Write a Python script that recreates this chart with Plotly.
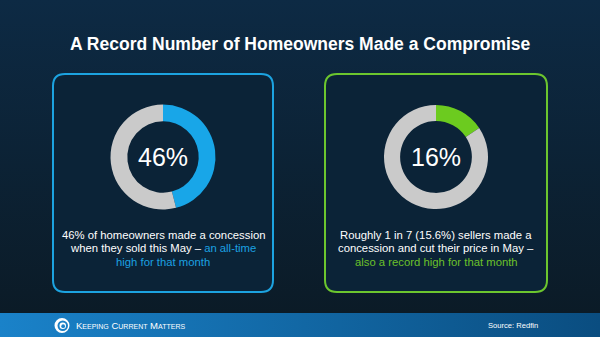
import numpy as np
import plotly.graph_objects as go

# ---- data ----
title_text = "A Record Number of Homeowners Made a Compromise"
left_labels = ["Made a concession", "Other"]
left_values = [46, 54]
left_center_label = "46%"
right_labels = ["Concession and price cut", "Other"]
right_values = [15.6, 84.4]
right_center_label = "16%"
left_caption = ["46% of homeowners made a concession",
                "when they sold this May \u2013 <span style='color:#1ba1e2'>an all-time</span>",
                "<span style='color:#1ba1e2'>high for that month</span>"]
right_caption = ["Roughly 1 in 7 (15.6%) sellers made a",
                 "concession and cut their price in May \u2013",
                 "<span style='color:#6cc12a'>also a record high for that month</span>"]
source_text = "Source: Redfin"

W, H = 600, 337
FONT = "Liberation Sans, Arial, sans-serif"

fig = go.Figure()

# background gradient
fig.add_trace(go.Scatter(
    x=[0, W, W, 0, 0], y=[0, 0, 313, 313, 0], mode="lines", fill="toself",
    line=dict(width=0), hoverinfo="skip", showlegend=False,
    fillgradient=dict(type="vertical", colorscale=[[0, "#0b1b27"], [1, "#0d2a44"]])))
# footer band
fig.add_trace(go.Scatter(
    x=[0, W, W, 0, 0], y=[313, 313, H, H, 313], mode="lines", fill="toself",
    line=dict(width=0), hoverinfo="skip", showlegend=False,
    fillgradient=dict(type="horizontal", colorscale=[[0, "#1a82c9"], [1, "#0a4d80"]])))


def rr_points(x0, y0, x1, y1, r, n=10):
    xs, ys = [], []
    corners = [(x1 - r, y0 + r, -90, 0), (x1 - r, y1 - r, 0, 90),
               (x0 + r, y1 - r, 90, 180), (x0 + r, y0 + r, 180, 270)]
    for cx, cy, a0, a1 in corners:
        t = np.radians(np.linspace(a0, a1, n))
        xs += list(cx + r * np.cos(t))
        ys += list(cy + r * np.sin(t))
    xs.append(xs[0]); ys.append(ys[0])
    return xs, ys


def rrect(x0, y0, x1, y1, r):
    return (f"M{x0+r},{y0} L{x1-r},{y0} Q{x1},{y0} {x1},{y0+r} L{x1},{y1-r} "
            f"Q{x1},{y1} {x1-r},{y1} L{x0+r},{y1} Q{x0},{y1} {x0},{y1-r} "
            f"L{x0},{y0+r} Q{x0},{y0} {x0+r},{y0} Z")


boxes = [(53, 74, 273, 292, "#1ca3e0"), (325, 74, 547, 292, "#6cc62e")]
shapes = []
for x0, y0, x1, y1, col in boxes:
    bx, by = rr_points(x0, y0, x1, y1, 12)
    fig.add_trace(go.Scatter(x=bx, y=by, mode="lines", fill="toself", fillcolor="#0b2337",
                             line=dict(width=0), hoverinfo="skip", showlegend=False))
    shapes.append(dict(type="path", path=rrect(x0, y0, x1, y1, 12), xref="x", yref="y",
                       line=dict(color=col, width=2), fillcolor="rgba(0,0,0,0)", layer="above"))

shapes += [
    dict(type="circle", xref="x", yref="y", x0=54.5, y0=318, x1=69.5, y1=333,
         fillcolor="white", line=dict(width=0), layer="above"),
    dict(type="circle", xref="x", yref="y", x0=57.5, y0=320.5, x1=68, y1=331,
         fillcolor="#1a80c6", line=dict(width=0), layer="above"),
    dict(type="circle", xref="x", yref="y", x0=59.5, y0=322.5, x1=66, y1=329,
         fillcolor="white", line=dict(width=0), layer="above"),
    dict(type="circle", xref="x", yref="y", x0=61.3, y0=324.3, x1=65, y1=328,
         fillcolor="#1a80c6", line=dict(width=0), layer="above"),
]


def dom(cx, cy, r):
    return dict(x=[(cx - r) / W, (cx + r) / W], y=[(H - cy - r) / H, (H - cy + r) / H])


fig.add_trace(go.Pie(labels=left_labels, values=left_values, hole=0.68, sort=False,
                     direction="clockwise", rotation=0, textinfo="none",
                     marker=dict(colors=["#18a6e8", "#cacaca"], line=dict(width=0)),
                     domain=dom(163, 157, 52.5), showlegend=False, hoverinfo="label+value"))
fig.add_trace(go.Pie(labels=right_labels, values=right_values, hole=0.69, sort=False,
                     direction="clockwise", rotation=0, textinfo="none",
                     marker=dict(colors=["#6ccb1f", "#cacaca"], line=dict(width=0)),
                     domain=dom(436, 157, 52), showlegend=False, hoverinfo="label+value"))

ann = []
ann.append(dict(x=300, y=44, text=f"<b>{title_text}</b>", showarrow=False,
                font=dict(size=17.5, color="white", family=FONT), xanchor="center", yanchor="middle"))
ann.append(dict(x=163, y=157, text=left_center_label, showarrow=False,
                font=dict(size=25, color="white", family=FONT), xanchor="center", yanchor="middle"))
ann.append(dict(x=436, y=157, text=right_center_label, showarrow=False,
                font=dict(size=25, color="white", family=FONT), xanchor="center", yanchor="middle"))
for i, line in enumerate(left_caption):
    ann.append(dict(x=163, y=235 + i * 13.4, text=line, showarrow=False,
                    font=dict(size=11.3, color="white", family=FONT), xanchor="center", yanchor="middle"))
for i, line in enumerate(right_caption):
    ann.append(dict(x=436, y=235 + i * 13.4, text=line, showarrow=False,
                    font=dict(size=11.3, color="white", family=FONT), xanchor="center", yanchor="middle"))
ann.append(dict(x=540, y=325.5, text=source_text, showarrow=False,
                font=dict(size=7.6, color="white", family=FONT), xanchor="right", yanchor="middle"))
sc = "<span style='font-size:7px'>"
ann.append(dict(x=74, y=325.5,
                text=f"K{sc}EEPING</span> C{sc}URRENT</span> M{sc}ATTERS</span>",
                showarrow=False, font=dict(size=9.5, color="white", family=FONT),
                xanchor="left", yanchor="middle"))
for a in ann:
    a.update(xref="x", yref="y")

fig.update_layout(
    width=W, height=H, margin=dict(l=0, r=0, t=0, b=0),
    paper_bgcolor="#0c2133", plot_bgcolor="#0c2133",
    xaxis=dict(range=[0, W], domain=[0, 1], visible=False, fixedrange=True),
    yaxis=dict(range=[H, 0], domain=[0, 1], visible=False, fixedrange=True),
    shapes=shapes, annotations=ann, showlegend=False,
)

fig.write_html("out.html", config={"displayModeBar": False})
